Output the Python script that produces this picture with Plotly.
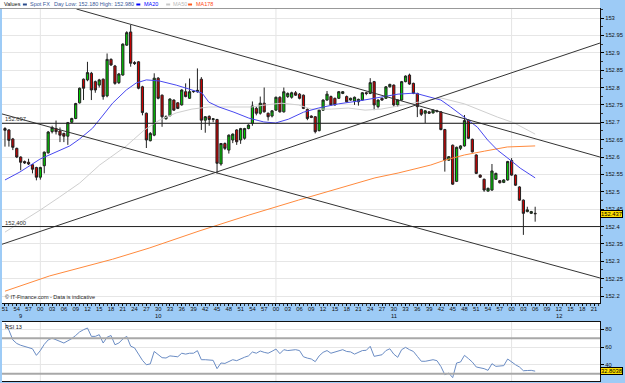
import plotly.graph_objects as go

# ---------------- data ----------------
X_LABELS = ["51", "54", "57",
            "00", "03", "06", "09", "12", "15", "18", "21", "24", "27",
            "30", "33", "36", "39", "42", "45", "48", "51", "54", "57",
            "00", "03", "06", "09", "12", "15", "18", "21", "24", "27",
            "30", "33", "36", "39", "42", "45", "48", "51", "54", "57",
            "00", "03", "06", "09", "12", "15", "18", "21"]
DATE_LABELS = ["9", "10", "11", "12"]
DATE_POS = [4, 39, 99, 141]

OPEN = [152.682, 152.678, 152.652, 152.625, 152.600, 152.587, 152.585, 152.578, 152.570, 152.542,
        152.575, 152.612, 152.673, 152.682, 152.675, 152.668, 152.660, 152.700, 152.711, 152.756,
        152.824, 152.822, 152.841, 152.817, 152.807, 152.824, 152.776, 152.881, 152.862, 152.814,
        152.836, 152.922, 152.960, 152.872, 152.874, 152.802, 152.726, 152.647, 152.663, 152.827,
        152.778, 152.710, 152.719, 152.764, 152.756, 152.750, 152.788, 152.769, 152.788, 152.788,
        152.824, 152.706, 152.717, 152.708, 152.708, 152.580, 152.639, 152.620, 152.649, 152.678,
        152.649, 152.654, 152.682, 152.697, 152.740, 152.726, 152.755, 152.726, 152.718, 152.735,
        152.772, 152.730, 152.774, 152.772, 152.785, 152.781, 152.778, 152.737, 152.718, 152.716,
        152.676, 152.735, 152.764, 152.774, 152.769, 152.769, 152.783, 152.774, 152.764, 152.761,
        152.759, 152.764, 152.785, 152.783, 152.817, 152.745, 152.769, 152.769, 152.802, 152.807,
        152.750, 152.764, 152.817, 152.836, 152.812, 152.783, 152.737, 152.726, 152.730, 152.727,
        152.733, 152.730, 152.679, 152.591, 152.634, 152.530, 152.625, 152.632, 152.706, 152.651,
        152.606, 152.548, 152.536, 152.502, 152.505, 152.536, 152.532, 152.527, 152.534, 152.590,
        152.548, 152.514, 152.476, 152.443, 152.438, 152.438]
HIGH = [152.686, 152.680, 152.655, 152.627, 152.602, 152.590, 152.595, 152.580, 152.572, 152.572,
        152.616, 152.675, 152.690, 152.705, 152.685, 152.670, 152.701, 152.713, 152.756, 152.800,
        152.826, 152.874, 152.845, 152.820, 152.825, 152.826, 152.898, 152.884, 152.865, 152.842,
        152.927, 152.962, 152.980, 152.876, 152.876, 152.805, 152.728, 152.672, 152.841, 152.830,
        152.780, 152.720, 152.769, 152.766, 152.758, 152.795, 152.812, 152.826, 152.790, 152.855,
        152.830, 152.718, 152.720, 152.712, 152.710, 152.640, 152.642, 152.665, 152.668, 152.680,
        152.684, 152.684, 152.694, 152.760, 152.745, 152.774, 152.800, 152.728, 152.735, 152.774,
        152.775, 152.800, 152.786, 152.788, 152.790, 152.784, 152.780, 152.740, 152.720, 152.718,
        152.737, 152.766, 152.790, 152.777, 152.771, 152.790, 152.790, 152.777, 152.771, 152.774,
        152.768, 152.787, 152.788, 152.827, 152.819, 152.766, 152.771, 152.804, 152.811, 152.809,
        152.766, 152.819, 152.835, 152.840, 152.814, 152.785, 152.739, 152.735, 152.732, 152.737,
        152.736, 152.732, 152.681, 152.603, 152.636, 152.630, 152.634, 152.721, 152.708, 152.653,
        152.608, 152.550, 152.538, 152.512, 152.580, 152.555, 152.534, 152.536, 152.589, 152.597,
        152.550, 152.516, 152.478, 152.457, 152.445, 152.457]
LOW = [152.630, 152.630, 152.620, 152.597, 152.562, 152.580, 152.577, 152.553, 152.533, 152.535,
       152.553, 152.610, 152.668, 152.665, 152.643, 152.643, 152.635, 152.698, 152.709, 152.754,
       152.764, 152.818, 152.764, 152.785, 152.800, 152.765, 152.772, 152.862, 152.808, 152.810,
       152.834, 152.920, 152.860, 152.865, 152.795, 152.720, 152.626, 152.645, 152.660, 152.766,
       152.687, 152.708, 152.717, 152.733, 152.738, 152.748, 152.772, 152.767, 152.785, 152.785,
       152.678, 152.670, 152.690, 152.700, 152.553, 152.575, 152.620, 152.610, 152.640, 152.635,
       152.638, 152.650, 152.680, 152.690, 152.720, 152.722, 152.728, 152.705, 152.714, 152.733,
       152.728, 152.728, 152.770, 152.768, 152.776, 152.766, 152.738, 152.706, 152.712, 152.668,
       152.674, 152.733, 152.762, 152.748, 152.748, 152.767, 152.781, 152.757, 152.762, 152.750,
       152.748, 152.762, 152.778, 152.781, 152.735, 152.740, 152.762, 152.767, 152.800, 152.745,
       152.745, 152.762, 152.815, 152.808, 152.781, 152.715, 152.718, 152.698, 152.724, 152.725,
       152.728, 152.677, 152.558, 152.589, 152.520, 152.528, 152.620, 152.630, 152.652, 152.613,
       152.551, 152.540, 152.500, 152.500, 152.503, 152.534, 152.524, 152.525, 152.532, 152.546,
       152.517, 152.474, 152.376, 152.441, 152.436, 152.414]
CLOSE = [152.677, 152.648, 152.628, 152.600, 152.585, 152.583, 152.580, 152.565, 152.542, 152.570,
         152.614, 152.672, 152.685, 152.673, 152.663, 152.660, 152.699, 152.711, 152.754, 152.798,
         152.798, 152.843, 152.793, 152.793, 152.822, 152.774, 152.881, 152.865, 152.812, 152.839,
         152.925, 152.958, 152.870, 152.869, 152.798, 152.728, 152.649, 152.668, 152.827, 152.769,
         152.716, 152.716, 152.767, 152.735, 152.740, 152.793, 152.774, 152.788, 152.789, 152.792,
         152.706, 152.716, 152.708, 152.710, 152.582, 152.639, 152.625, 152.663, 152.666, 152.644,
         152.682, 152.682, 152.692, 152.747, 152.726, 152.755, 152.730, 152.716, 152.733, 152.772,
         152.730, 152.788, 152.783, 152.785, 152.778, 152.769, 152.740, 152.711, 152.714, 152.673,
         152.735, 152.764, 152.781, 152.750, 152.750, 152.788, 152.788, 152.759, 152.769, 152.772,
         152.766, 152.785, 152.783, 152.814, 152.750, 152.764, 152.764, 152.802, 152.809, 152.750,
         152.764, 152.817, 152.833, 152.810, 152.783, 152.745, 152.723, 152.733, 152.726, 152.735,
         152.731, 152.679, 152.591, 152.601, 152.522, 152.628, 152.632, 152.705, 152.654, 152.615,
         152.553, 152.542, 152.505, 152.510, 152.560, 152.553, 152.526, 152.534, 152.587, 152.548,
         152.519, 152.476, 152.438, 152.448, 152.443, 152.437]
IDX = list(range(len(CLOSE)))

MA20_X = [0, 3.8, 8.9, 13.9, 16.5, 19.0, 22.3, 24.8, 27.4, 30.9, 33.4, 36.0, 39.3, 43.6, 47.6, 50.2,
          51.9, 54.5, 58.3, 62.1, 65.9, 68.9, 72.2, 76.0, 79.8, 84.9, 89.9, 95.0, 100.1, 104.4,
          108.4, 111.0, 113.5, 117.0, 120.3, 122.9, 125.4, 128.7, 131.2, 135]
MA20_Y = [152.534, 152.557, 152.594, 152.620, 152.632, 152.652, 152.683, 152.718, 152.755, 152.793,
          152.813, 152.822, 152.819, 152.807, 152.793, 152.784, 152.758, 152.744, 152.729, 152.712,
          152.701, 152.698, 152.709, 152.729, 152.741, 152.753, 152.761, 152.770, 152.781, 152.784,
          152.773, 152.764, 152.744, 152.715, 152.686, 152.649, 152.620, 152.591, 152.568, 152.540]
MA50_X = [0, 3.8, 8.9, 13.9, 19.0, 24.1, 30.9, 35.5, 39.3, 43.6, 47.6, 51.9, 57.8, 62.8, 66.4, 70.4,
          74.7, 78.0, 83.1, 87.4, 91.7, 95.8, 100.1, 108.4, 111.0, 117.0, 122.1, 125.4, 129.7, 132.3, 135]
MA50_Y = [152.384, 152.410, 152.447, 152.485, 152.525, 152.577, 152.632, 152.678, 152.706, 152.727,
          152.738, 152.744, 152.744, 152.744, 152.750, 152.755, 152.750, 152.738, 152.738, 152.741,
          152.735, 152.738, 152.747, 152.764, 152.770, 152.753, 152.729, 152.715, 152.698, 152.683, 152.666]
MA178_X = [0, 11.4, 27.4, 36.7, 49.4, 62.1, 74.7, 87.4, 94.2, 100.1, 108.4, 112.0, 117.0, 122.1, 127.9, 135]
MA178_Y = [152.214, 152.258, 152.306, 152.338, 152.387, 152.433, 152.476, 152.517, 152.540, 152.554,
           152.577, 152.591, 152.606, 152.617, 152.629, 152.632]

RSI = [87, 79, 68, 64, 62, 60.5, 59.5, 58, 50.6, 56,
       63, 68, 70, 68, 66.4, 64.5, 67, 69.5, 73, 77,
       79.5, 81.4, 72, 72, 73.9, 64.5, 71, 73, 62.6, 64.5,
       69, 72, 61, 59, 52, 45, 40, 41, 55, 52,
       48, 47.6, 50, 49.5, 49, 53, 52, 53, 53, 55.9,
       45.7, 45.7, 45.5, 45, 35.6, 42, 41.5, 43.5, 45.7, 44.6,
       47, 48.5, 50, 54.4, 53, 55.5, 54, 53, 55.2, 57.7,
       52.5, 57, 56, 56.5, 57, 56, 49, 47.5, 46.5, 43.5,
       50, 54, 56, 53, 54.5, 56, 57, 55, 54.5, 52,
       54, 56, 56.3, 60.8, 49.5, 50.6, 51.3, 56, 58, 52,
       48.4, 57, 59.6, 57, 55, 49.5, 44, 43.9, 44.5, 45.7,
       44.6, 38, 28.8, 30.7, 25.5, 42, 43.1, 50.6, 47, 43,
       37.5, 36.5, 35.6, 33.7, 41.2, 38.2, 38.2, 39, 46.5, 42.7,
       40, 37.5, 33.3, 33.5, 33.7, 32.8038]

# trend lines: (x0, p0, x1, p1)
TRENDLINES = [(18.2, 153.026, 151.5, 152.600),
              (-0.76, 152.349, 151.5, 152.928),
              (-0.76, 152.724, 151.5, 152.252)]
LEVELS = [152.697, 152.400]
LEVEL_TEXT = ["152.697", "152.400"]

PRICE_TICKS = [152.2, 152.25, 152.3, 152.35, 152.4, 152.45, 152.5, 152.55, 152.6, 152.65,
               152.7, 152.75, 152.8, 152.85, 152.9, 152.95, 153.0]
PRICE_TEXT = ["152.2", "152.25", "152.3", "152.35", "152.4", "152.45", "152.5", "152.55", "152.6",
              "152.65", "152.7", "152.75", "152.8", "152.85", "152.9", "152.95", "153"]
RSI_TICKS = [40, 60, 80]
RSI_LEVELS = [70, 30]

# ---------------- layout helpers ----------------
W, H = 625, 383
ML, MR, MT, MB = 2, 22, 9, 2
PW, PH = W - ML - MR, H - MT - MB


def px_x(px):
    return (px - ML) / PW


def px_y(py):
    return (H - MB - py) / PH


BLUE_BG = "#9DCBF6"
FONT = "Liberation Sans, Arial, sans-serif"
FS = 5.8
XR = [-0.76, 151.51]

fig = go.Figure()

fig.add_trace(go.Candlestick(
    x=IDX, open=OPEN, high=HIGH, low=LOW, close=CLOSE,
    increasing=dict(fillcolor="#00CC00", line=dict(color="#222222", width=1)),
    decreasing=dict(fillcolor="#CC0000", line=dict(color="#222222", width=1)),
    whiskerwidth=0, showlegend=False, xaxis="x", yaxis="y"))

fig.add_trace(go.Scatter(x=MA50_X, y=MA50_Y, mode="lines", line=dict(color="#CFCFCF", width=1),
                         showlegend=False, xaxis="x", yaxis="y"))
fig.add_trace(go.Scatter(x=MA178_X, y=MA178_Y, mode="lines", line=dict(color="#FF8A3D", width=1),
                         showlegend=False, xaxis="x", yaxis="y"))
fig.add_trace(go.Scatter(x=MA20_X, y=MA20_Y, mode="lines", line=dict(color="#4848F0", width=1),
                         showlegend=False, xaxis="x", yaxis="y"))

for x0, p0, x1, p1 in TRENDLINES:
    fig.add_trace(go.Scatter(x=[x0, x1], y=[p0, p1], mode="lines",
                             line=dict(color="#333333", width=1), showlegend=False,
                             xaxis="x", yaxis="y"))

fig.add_trace(go.Scatter(x=IDX, y=RSI, mode="lines", line=dict(color="#6A8CC4", width=1),
                         showlegend=False, xaxis="x2", yaxis="y2"))

shapes = []
# vertical grid lines at the "00" ticks
for k, lab in enumerate(X_LABELS):
    if lab == "00":
        for yr in ("y domain", "y2 domain"):
            shapes.append(dict(type="line", xref="x", yref=yr, x0=3 * k, x1=3 * k, y0=0, y1=1,
                               line=dict(color="#E4E4E4", width=1), layer="below"))
# level lines
for lv in LEVELS:
    shapes.append(dict(type="line", xref="x domain", yref="y", x0=0, x1=1, y0=lv, y1=lv,
                       line=dict(color="#222222", width=1)))
for lv in RSI_LEVELS:
    shapes.append(dict(type="line", xref="x domain", yref="y2", x0=0, x1=1, y0=lv, y1=lv,
                       line=dict(color="#A8A8A8", width=2)))
# top white strip
shapes.append(dict(type="rect", xref="paper", yref="paper", x0=px_x(0), x1=px_x(603),
                   y0=px_y(8.5), y1=px_y(0), fillcolor="white", line=dict(width=0), layer="below"))
shapes.append(dict(type="line", xref="paper", yref="paper", x0=px_x(0), x1=px_x(603),
                   y0=px_y(8.5), y1=px_y(8.5), line=dict(color="#999999", width=1)))
# legend dashes
for (a, b, col) in [(23, 27, "#2B4C8C"), (137, 141, "#0000FF"), (167, 171, "#C8C8C8"), (189, 193, "#FF5A1E")]:
    shapes.append(dict(type="line", xref="paper", yref="paper", x0=px_x(a), x1=px_x(b),
                       y0=px_y(4.5), y1=px_y(4.5), line=dict(color=col, width=2)))

ann = []


def txt(px, py, s, color="#111111", size=FS, anchor="left"):
    ann.append(dict(xref="paper", yref="paper", x=px_x(px), y=px_y(py), text=s, showarrow=False,
                    xanchor=anchor, yanchor="middle", font=dict(family=FONT, size=size, color=color)))


txt(2, 4.5, "Values", size=5.5)
txt(28, 4.5, "Spot FX", "#3A5A9A", 5.5)
txt(52, 4.5, "Day Low: 152.180 High: 152.980", "#3A5A9A", 5.5)
txt(143, 4.5, "MA20", "#0000FF", 5.5)
txt(172, 4.5, "MA50", "#BBBBBB", 5.5)
txt(195, 4.5, "MA178", "#FF4A14", 5.5)
txt(3, 297, "© IT-Finance.com - Data is indicative", "#222222", 5.5)
txt(3, 327, "RSI 13", "#111111", 5.5)

for lv, s in zip(LEVELS, LEVEL_TEXT):
    ann.append(dict(xref="paper", yref="y", x=px_x(3), y=lv, text=s, showarrow=False,
                    xanchor="left", yanchor="bottom", yshift=-1,
                    font=dict(family=FONT, size=FS, color="#333333")))

for s, pos in zip(DATE_LABELS, DATE_POS):
    ann.append(dict(xref="x", yref="paper", x=pos, y=px_y(316), text=s, showarrow=False,
                    xanchor="center", yanchor="middle", font=dict(family=FONT, size=FS, color="#111111")))

# last value tags
ann.append(dict(xref="paper", yref="y", x=px_x(603.5), y=CLOSE[-1], text=f"{CLOSE[-1]:.3f}",
                showarrow=False, xanchor="left", yanchor="middle", bgcolor="#FFE000",
                bordercolor="#000000", borderwidth=1, borderpad=0,
                font=dict(family=FONT, size=FS, color="#000000")))
ann.append(dict(xref="paper", yref="y2", x=px_x(603.5), y=RSI[-1], text=f"{RSI[-1]:.4f}",
                showarrow=False, xanchor="left", yanchor="middle", bgcolor="#FFE000",
                bordercolor="#000000", borderwidth=1, borderpad=0,
                font=dict(family=FONT, size=FS, color="#000000")))

fig.update_layout(
    width=W, height=H, margin=dict(l=ML, r=MR, t=MT, b=MB),
    paper_bgcolor=BLUE_BG, plot_bgcolor="white", hovermode=False, showlegend=False,
    boxgap=0.2,
    shapes=shapes, annotations=ann,
    xaxis=dict(domain=[0, 1], anchor="y", range=XR, rangeslider=dict(visible=False),
               tickmode="array", tickvals=[3 * k for k in range(len(X_LABELS))], ticktext=X_LABELS,
               ticks="outside", ticklen=2, tickcolor="#000000", showgrid=False, zeroline=False,
               showline=True, linecolor="#111111", linewidth=1, mirror=True, ticklabelstandoff=-2,
               tickfont=dict(family=FONT, size=FS, color="#111111"),
               minor=dict(ticks="outside", ticklen=2, tickcolor="#333333", dtick=1, tick0=0, showgrid=False)),
    yaxis=dict(domain=[px_y(303), 1], anchor="x", range=[152.18, 153.026], side="right",
               tickmode="array", tickvals=PRICE_TICKS, ticktext=PRICE_TEXT,
               ticks="outside", ticklen=3, tickcolor="#000000", showgrid=True, gridcolor="#E6E6E6",
               zeroline=False, showline=True, linecolor="#111111", linewidth=1,
               tickfont=dict(family=FONT, size=FS, color="#111111"),
               minor=dict(ticks="outside", ticklen=2, tickcolor="#333333", dtick=0.025, tick0=152.2, showgrid=False)),
    xaxis2=dict(domain=[0, 1], anchor="y2", range=XR, matches="x", showticklabels=False,
                ticks="", showgrid=False, zeroline=False, showline=True, linecolor="#111111",
                linewidth=1, mirror=True),
    yaxis2=dict(domain=[0, px_y(322)], anchor="x2", range=[21.7, 88.2], side="right",
                tickmode="array", tickvals=RSI_TICKS, ticktext=[str(t) for t in RSI_TICKS],
                ticks="outside", ticklen=3, tickcolor="#000000", showgrid=True, gridcolor="#E6E6E6",
                zeroline=False, showline=True, linecolor="#111111", linewidth=1,
                tickfont=dict(family=FONT, size=FS, color="#111111")),
)

fig.write_html("out.html")
